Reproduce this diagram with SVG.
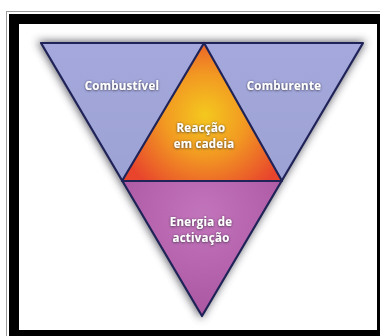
<svg xmlns="http://www.w3.org/2000/svg" width="380" height="336" viewBox="0 0 380 336">
<style>
.lbl{font-family:"Open Sans","Noto Sans",sans-serif;font-weight:bold;font-size:11.5px;letter-spacing:0.25px;fill:#ffffff;text-anchor:middle;filter:url(#ts)}
.edge{fill:none;stroke:#1f2358;stroke-width:2.2;stroke-linejoin:round}
</style>
<defs>
<filter id="sh" x="-20%" y="-20%" width="140%" height="140%">
<feGaussianBlur stdDeviation="4.5"/>
</filter>
<filter id="ts" x="-20%" y="-40%" width="140%" height="180%">
<feDropShadow dx="0" dy="0.5" stdDeviation="1.1" flood-color="#2a2a3a" flood-opacity="0.95"/>
</filter>
<radialGradient id="gOr" cx="205" cy="115" r="90" gradientUnits="userSpaceOnUse">
<stop offset="0" stop-color="#f4c81e"/>
<stop offset="0.45" stop-color="#f29a22"/>
<stop offset="1" stop-color="#e8452c"/>
</radialGradient>
<radialGradient id="gPu" cx="202" cy="215" r="110" gradientUnits="userSpaceOnUse">
<stop offset="0" stop-color="#c274bb"/>
<stop offset="1" stop-color="#a9549f"/>
</radialGradient>
<linearGradient id="gBl" x1="0" y1="0" x2="0" y2="1">
<stop offset="0" stop-color="#a4a8dc"/>
<stop offset="1" stop-color="#9da2d4"/>
</linearGradient>
</defs>
<rect x="0" y="0" width="380" height="336" fill="#ffffff"/>
<rect x="6.5" y="11.5" width="380" height="330" fill="none" stroke="#9a9a9a" stroke-width="1"/>
<rect x="14" y="19" width="368" height="316" fill="none" stroke="#000000" stroke-width="10"/>
<path d="M37,41 L366,41 L201,319 Z" fill="#4a4a55" opacity="0.85" filter="url(#sh)"/>
<g id="combustivel">
<path d="M41,43 L204,43 L122,181 Z" fill="url(#gBl)"/>
<text class="lbl" x="122" y="90">Combustível</text>
</g>
<g id="comburente">
<path d="M204,43 L363,43 L282,181 Z" fill="url(#gBl)"/>
<text class="lbl" x="284" y="90">Comburente</text>
</g>
<g id="reaccao">
<path d="M204,43 L282,181 L122,181 Z" fill="url(#gOr)"/>
<text class="lbl" x="201" y="131.5">Reacção</text>
<text class="lbl" x="204" y="147.5">em cadeia</text>
</g>
<g id="energia">
<path d="M122,181 L282,181 L202,316 Z" fill="url(#gPu)"/>
<text class="lbl" x="201" y="226">Energia de</text>
<text class="lbl" x="201" y="242">activação</text>
</g>
<g id="connectors">
<path class="edge" d="M41,43 L363,43 L202,316 Z"/>
<path class="edge" d="M204,43 L282,181 L122,181 Z"/>
</g>
</svg>
